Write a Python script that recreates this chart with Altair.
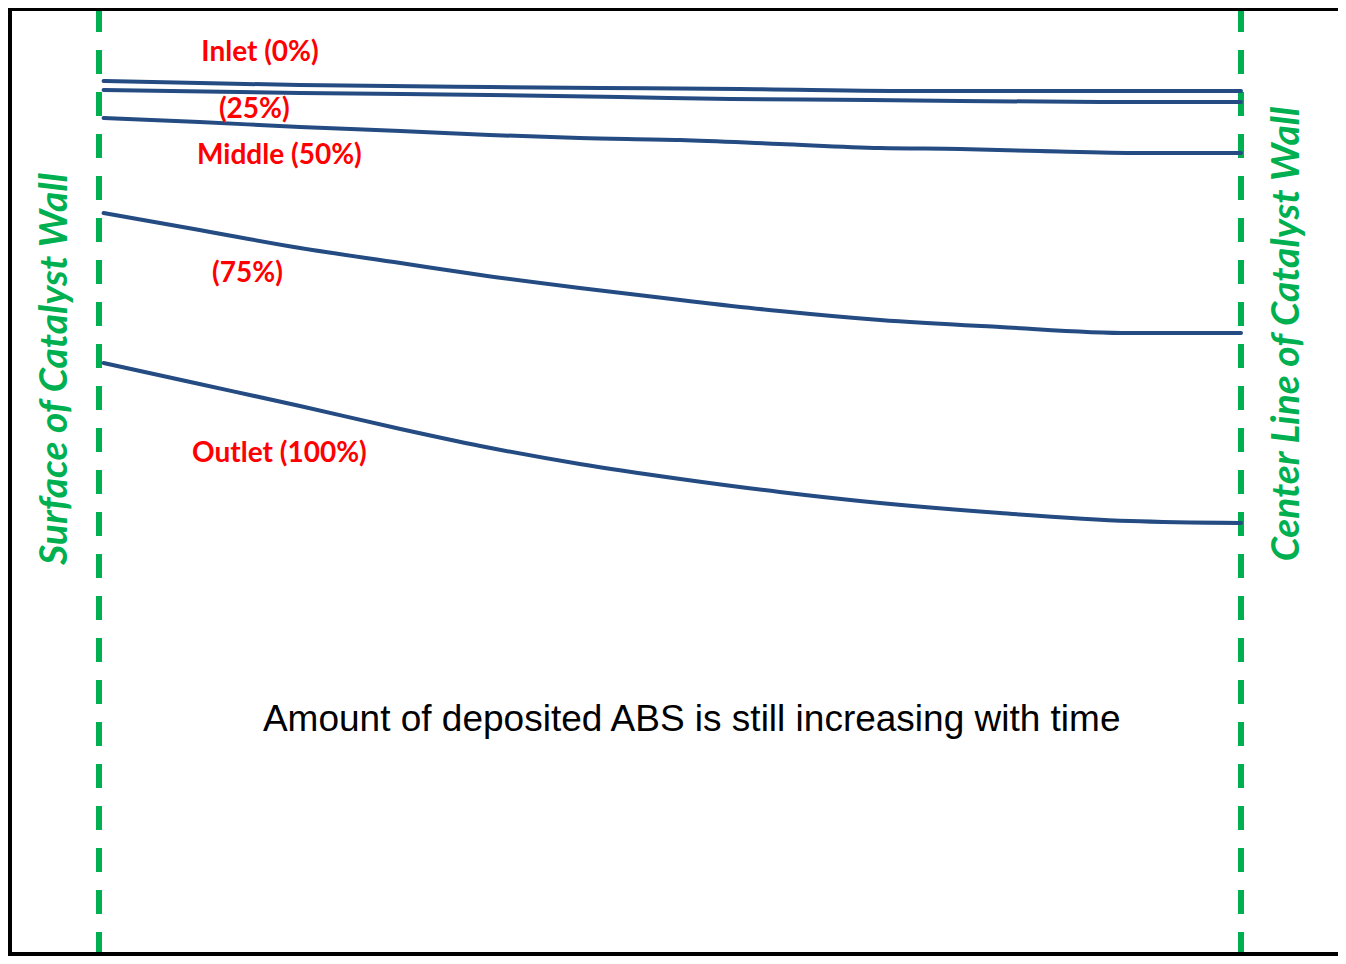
import altair as alt
import pandas as pd

# ---- data ----
# x: relative position across the catalyst wall (0 = surface, 1 = center line)
# v: relative amount of deposited ABS (arbitrary units)
series_names = ["Inlet (0%)", "(25%)", "Middle (50%)", "(75%)", "Outlet (100%)"]

inlet_x = [0.004, 0.088, 0.176, 0.342, 0.439, 0.561, 0.723, 1.0]
inlet_v = [91.8, 91.4, 91.0, 90.6, 90.4, 90.2, 89.8, 89.8]

p25_x = [0.004, 0.176, 0.342, 0.456, 0.553, 0.675, 0.877, 1.0]
p25_v = [90.0, 89.4, 89.0, 88.6, 88.2, 88.0, 87.6, 87.6]

middle_x = [0.004, 0.088, 0.176, 0.264, 0.342, 0.421, 0.509, 0.596, 0.684, 0.754, 0.824, 0.912, 1.0]
middle_v = [84.4, 83.6, 82.6, 81.8, 81.0, 80.4, 80.0, 79.2, 78.4, 78.2, 77.8, 77.4, 77.4]

p75_x = [0.004, 0.088, 0.176, 0.264, 0.334, 0.421, 0.509, 0.596, 0.684, 0.789, 0.903, 1.0]
p75_v = [65.4, 62.0, 58.4, 55.4, 53.0, 50.4, 48.0, 45.8, 44.0, 42.6, 41.4, 41.4]

outlet_x = [0.004, 0.088, 0.176, 0.264, 0.334, 0.421, 0.509, 0.596, 0.675, 0.789, 0.903, 1.0]
outlet_v = [35.4, 31.2, 26.8, 22.2, 18.8, 15.2, 12.2, 9.6, 7.6, 5.4, 3.8, 3.4]

label_x = [0.141, 0.136, 0.158, 0.130, 0.158]
label_v = [97.4, 86.0, 76.8, 53.2, 17.2]

wall_names = ["Surface of Catalyst Wall", "Center Line of Catalyst Wall"]
wall_x = [0.0, 1.0]
wall_label_x = [-0.0385, 1.040]
wall_label_v = [34.2, 41.2]

note_text = ["Amount of deposited ABS is still increasing with time"]
note_x = [0.519]
note_v = [-35.9]

# ---- tables ----
rows = []
for name, xs_, vs_ in zip(series_names,
                          [inlet_x, p25_x, middle_x, p75_x, outlet_x],
                          [inlet_v, p25_v, middle_v, p75_v, outlet_v]):
    for xv, vv in zip(xs_, vs_):
        rows.append({"series": name, "x": xv, "v": vv})
lines_df = pd.DataFrame(rows)
labels_df = pd.DataFrame({"label": series_names, "x": label_x, "v": label_v})
walls_df = pd.DataFrame({"name": wall_names, "x": wall_x, "lx": wall_label_x, "lv": wall_label_v})
note_df = pd.DataFrame({"text": note_text, "x": note_x, "v": note_v})

W, H = 1330, 948
BLUE = "#244B82"
GREEN = "#00B050"

xs = alt.Scale(domain=[-0.079685, 1.084938], nice=False, zero=False)
ys = alt.Scale(domain=[-83.2, 106.4], nice=False, zero=False)
X = lambda f: alt.X(f, type="quantitative", scale=xs, axis=None)
Y = lambda f: alt.Y(f, type="quantitative", scale=ys, axis=None)

walls = alt.Chart(walls_df).mark_rule(
    color=GREEN, strokeWidth=6, strokeDash=[24, 18]
).encode(x=X("x"))

lines = alt.Chart(lines_df).mark_line(
    color=BLUE, strokeWidth=4, interpolate="monotone", strokeCap="round"
).encode(x=X("x"), y=Y("v"), detail="series:N")

labels = alt.Chart(labels_df).mark_text(
    color="#FF0000", font="Lato", fontWeight="bold", fontSize=28,
    align="center", baseline="middle"
).encode(x=X("x"), y=Y("v"), text="label:N")

wall_labels = alt.Chart(walls_df).mark_text(
    color=GREEN, font="Lato", fontWeight="bold", fontStyle="italic", fontSize=39,
    align="center", baseline="middle", angle=270
).encode(x=X("lx"), y=Y("lv"), text="name:N")

note = alt.Chart(note_df).mark_text(
    color="black", font="Liberation Sans", fontSize=37,
    align="center", baseline="middle"
).encode(x=X("x"), y=Y("v"), text="text:N")

frame_left = alt.Chart(note_df).mark_rule(color="black", strokeWidth=4).encode(
    x=alt.value(2), y=alt.value(0), y2=alt.value(H))
frame_top = alt.Chart(note_df).mark_rule(color="black", strokeWidth=3).encode(
    x=alt.value(0), x2=alt.value(W), y=alt.value(1.5))
frame_bottom = alt.Chart(note_df).mark_rule(color="black", strokeWidth=4).encode(
    x=alt.value(0), x2=alt.value(W), y=alt.value(H - 2))

chart = alt.layer(
    walls, lines, labels, wall_labels, note, frame_left, frame_top, frame_bottom
).properties(
    width=W, height=H, autosize=alt.AutoSizeParams(type="none"), padding=0,
    background="white"
).configure_view(stroke=None)

chart.save("out.html", embed_options={"renderer": "svg", "actions": False})
